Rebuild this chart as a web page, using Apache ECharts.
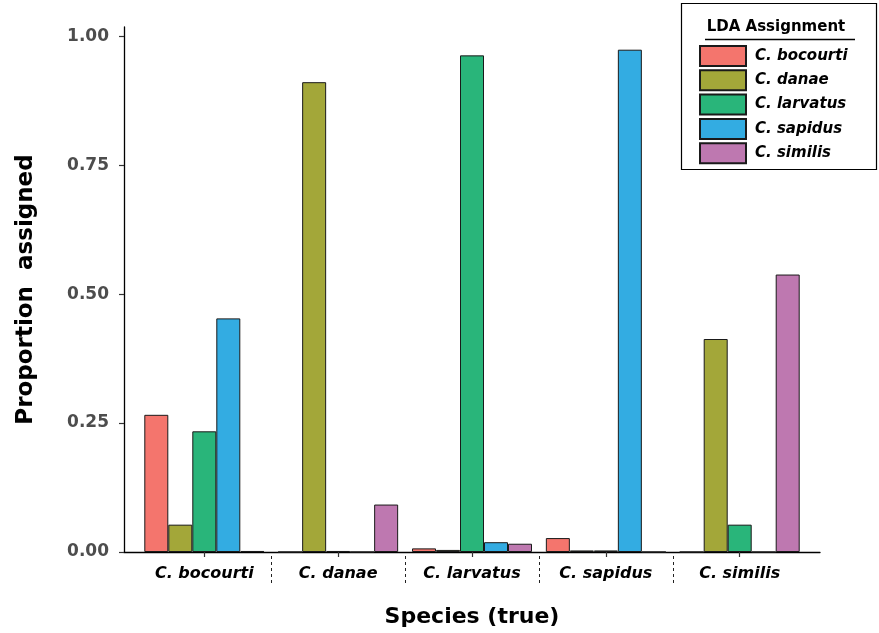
<!DOCTYPE html>
<html>
<head>
<meta charset="utf-8">
<script src="https://cdn.jsdelivr.net/npm/echarts@6/dist/echarts.min.js"></script>
<style>
  html, body { margin: 0; padding: 0; background: #fff; }
  #chart { width: 879px; height: 633px; }
</style>
</head>
<body>
<div id="chart"></div>
<script>
// True species on the x axis (one group of bars each)
const species = ['C. bocourti', 'C. danae', 'C. larvatus', 'C. sapidus', 'C. similis'];
// Group centre positions on the x axis
const speciesPos = [1, 2, 3, 4, 5];
// Proportion of each true species assigned to each LDA class
const assignedBocourti = [0.266, 0.000, 0.007, 0.027, 0.000];
const assignedDanae    = [0.053, 0.911, 0.004, 0.003, 0.413];
const assignedLarvatus = [0.234, 0.002, 0.963, 0.003, 0.053];
const assignedSapidus  = [0.453, 0.000, 0.019, 0.974, 0.000];
const assignedSimilis  = [0.002, 0.092, 0.016, 0.000, 0.538];
// Y tick labels
const yTicks = [0, 0.25, 0.5, 0.75, 1.0];

const seriesDefs = [
  { name: 'C. bocourti', values: assignedBocourti, color: '#F4756D' },
  { name: 'C. danae',    values: assignedDanae,    color: '#A3A739' },
  { name: 'C. larvatus', values: assignedLarvatus, color: '#29B57A' },
  { name: 'C. sapidus',  values: assignedSapidus,  color: '#33ACE2' },
  { name: 'C. similis',  values: assignedSimilis,  color: '#BE78B0' }
];

const FONT = 'DejaVu Sans';
const chart = echarts.init(document.getElementById('chart'), null, { renderer: 'canvas' });

const option = {
  animation: false,
  backgroundColor: '#fff',
  grid: { left: 124, right: 59, top: 27, bottom: 75, containLabel: false },
  xAxis: [
    {
      type: 'value', min: 0.4, max: 5.6,
      splitLine: { show: false },
      axisLine: { show: true, lineStyle: { color: '#000', width: 1.3 } },
      axisTick: { show: true, length: 5, customValues: speciesPos, lineStyle: { color: '#333', width: 1.2 } },
      axisLabel: {
        show: true, customValues: speciesPos, margin: 14,
        formatter: v => species[speciesPos.indexOf(Math.round(v))] || '',
        fontFamily: FONT, fontSize: 16, fontWeight: 'bold', fontStyle: 'italic', color: '#000'
      },
      name: 'Species (true)', nameLocation: 'middle', nameGap: 54,
      nameTextStyle: { fontFamily: FONT, fontSize: 22, fontWeight: 'bold', color: '#000' }
    },
    {
      // dashed separators between species groups
      type: 'value', min: 0.4, max: 5.6, position: 'bottom', offset: 4,
      splitLine: { show: false },
      axisLine: { show: false },
      axisLabel: { show: false },
      axisTick: { show: true, length: 30, customValues: [1.5, 2.5, 3.5, 4.5],
        lineStyle: { color: '#222', width: 1, type: [3, 3] } }
    }
  ],
  yAxis: {
    type: 'value', min: 0, max: 1.018,
    splitLine: { show: false },
    axisLine: { show: true, lineStyle: { color: '#000', width: 1.3 } },
    axisTick: { show: true, length: 5, customValues: yTicks, lineStyle: { color: '#333', width: 1.2 } },
    axisLabel: {
      customValues: yTicks, margin: 15,
      formatter: v => v.toFixed(2),
      fontFamily: FONT, fontSize: 17, fontWeight: 'bold', color: '#4D4D4D'
    },
    name: 'Proportion  assigned', nameLocation: 'middle', nameGap: 86,
    nameTextStyle: { fontFamily: FONT, fontSize: 23, fontWeight: 'bold', color: '#000' }
  },
  legend: {
    orient: 'vertical', left: 699, top: 45, padding: 0,
    itemWidth: 46, itemHeight: 20, itemGap: 2.3, icon: 'rect',
    data: seriesDefs.map(s => s.name),
    textStyle: { fontFamily: FONT, fontSize: 15, fontWeight: 'bold', fontStyle: 'italic', color: '#000', padding: [0, 0, 0, 4] }
  },
  graphic: [
    { type: 'rect', shape: { x: 681.5, y: 3.5, width: 195, height: 166 },
      style: { fill: 'none', stroke: '#000', lineWidth: 1.2 }, z: 0 },
    { type: 'text', x: 776, y: 27, style: { text: 'LDA Assignment', fill: '#000',
      font: 'bold 15px "DejaVu Sans"', textAlign: 'center', textVerticalAlign: 'middle' } },
    { type: 'line', shape: { x1: 705, y1: 39.5, x2: 855, y2: 39.5 },
      style: { stroke: '#000', lineWidth: 1.3 } }
  ],
  series: seriesDefs.map(s => ({
    name: s.name,
    type: 'bar',
    xAxisIndex: 0,
    barWidth: 24,
    barGap: '0%',
    data: s.values.map((v, i) => [speciesPos[i], v]),
    itemStyle: { color: s.color, borderColor: '#1a1a1a', borderWidth: 1 }
  }))
};

chart.setOption(option);
</script>
</body>
</html>
